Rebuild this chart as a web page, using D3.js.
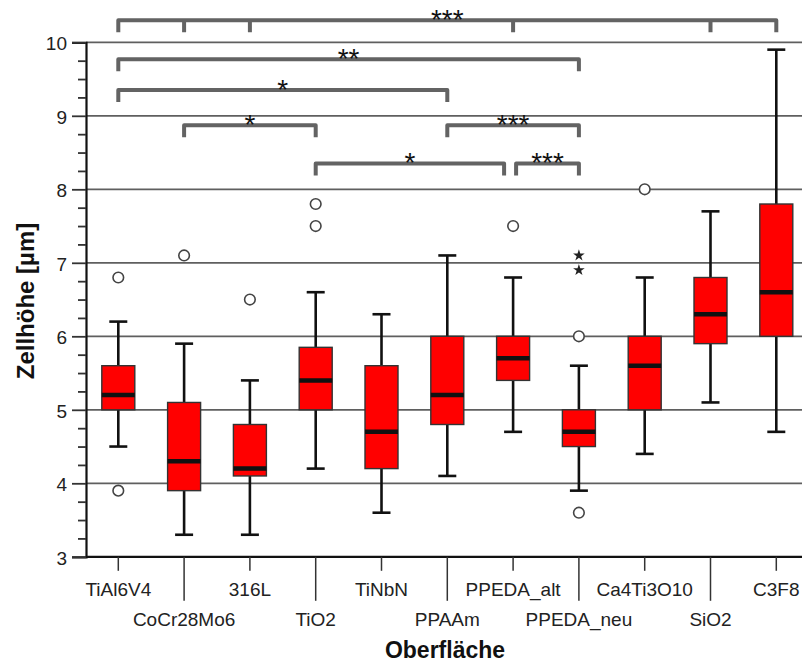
<!DOCTYPE html>
<html>
<head>
<meta charset="utf-8">
<script src="https://cdn.jsdelivr.net/npm/d3@7"></script>
<style>
  html, body { margin: 0; padding: 0; background: #fff; }
  svg { display: block; font-family: "Liberation Sans", Arial, sans-serif; }
</style>
</head>
<body>
<svg id="chart" width="802" height="663"></svg>
<script>
// ---------- data ----------
const categories = ["TiAl6V4","CoCr28Mo6","316L","TiO2","TiNbN","PPAAm","PPEDA_alt","PPEDA_neu","Ca4Ti3O10","SiO2","C3F8"];
const whiskerLow  = [4.5, 3.3, 3.3, 4.2, 3.6, 4.1, 4.7, 3.9, 4.4, 5.1, 4.7];
const q1          = [5.0, 3.9, 4.1, 5.0, 4.2, 4.8, 5.4, 4.5, 5.0, 5.9, 6.0];
const medians     = [5.2, 4.3, 4.2, 5.4, 4.7, 5.2, 5.7, 4.7, 5.6, 6.3, 6.6];
const q3          = [5.6, 5.1, 4.8, 5.85, 5.6, 6.0, 6.0, 5.0, 6.0, 6.8, 7.8];
const whiskerHigh = [6.2, 5.9, 5.4, 6.6, 6.3, 7.1, 6.8, 5.6, 6.8, 7.7, 9.9];
const outlierCats   = ["TiAl6V4","TiAl6V4","CoCr28Mo6","316L","TiO2","TiO2","PPEDA_alt","PPEDA_neu","PPEDA_neu","Ca4Ti3O10"];
const outlierValues = [6.8, 3.9, 7.1, 6.5, 7.8, 7.5, 7.5, 6.0, 3.6, 8.0];
const extremeCats   = ["PPEDA_neu","PPEDA_neu"];
const extremeValues = [7.1, 6.9];
const yTicks = [3,4,5,6,7,8,9,10];
const yLabel = "Zellhöhe [µm]";
const xLabel = "Oberfläche";
// significance brackets: legs (categories), label, level (in y units)
const bracketLegs = [
  ["TiAl6V4","CoCr28Mo6","316L","PPEDA_alt","SiO2","C3F8"],
  ["TiAl6V4","PPEDA_neu"],
  ["TiAl6V4","PPAAm"],
  ["CoCr28Mo6","TiO2"],
  ["PPAAm","PPEDA_neu"],
  ["TiO2","PPEDA_alt"],
  ["PPEDA_alt","PPEDA_neu"]
];
const bracketLabels = ["***","**","*","*","***","*","***"];
const bracketLevels = [10.3, 9.77, 9.35, 8.87, 8.87, 8.35, 8.35];

// ---------- layout ----------
const W = 802, H = 663;
const mLeft = 86, mTop = 42.3, mBottom = 556.8;
const svg = d3.select("#chart");

const x = d3.scaleBand().domain(categories).range([85.4, 85.4 + 11 * 65.8]).paddingInner(0).paddingOuter(0);
const y = d3.scaleLinear().domain([3, 10]).range([mBottom, mTop]);
const cx = c => x(c) + x.bandwidth() / 2;
const boxW = 33;
const capW = 18;

// gridlines
svg.append("g").selectAll("line").data(yTicks.filter(t => t > 3)).join("line")
  .attr("x1", mLeft).attr("x2", W)
  .attr("y1", d => y(d)).attr("y2", d => y(d))
  .attr("stroke", "#5f5f5f").attr("stroke-width", 1.8);

// brackets
const bG = svg.append("g");
bracketLegs.forEach((legs, i) => {
  const ly = y(bracketLevels[i]);
  const leg = 12;
  const xs = legs.map(c => cx(c));
  bracketLegs.forEach((o, j) => {
    if (j !== i && bracketLevels[j] === bracketLevels[i]) {
      if (o[0] === legs[legs.length - 1]) xs[xs.length - 1] -= 9;
      if (o[o.length - 1] === legs[0]) xs[0] += 3;
    }
  });
  const x0 = xs[0], x1 = xs[xs.length - 1];
  let d = `M${x0},${ly + leg} L${x0},${ly} L${x1},${ly} L${x1},${ly + leg}`;
  xs.slice(1, -1).forEach(xi => { d += ` M${xi},${ly} L${xi},${ly + leg}`; });
  bG.append("path").attr("d", d).attr("fill", "none")
    .attr("stroke", "#636363").attr("stroke-width", 4).attr("stroke-linejoin", "round");
  bG.append("text").attr("x", (x0 + x1) / 2).attr("y", ly + 8.5)
    .attr("text-anchor", "middle").attr("font-size", 28).attr("fill", "#111")
    .text(bracketLabels[i]);
});

// boxes
const boxes = svg.append("g");
categories.forEach((c, i) => {
  const g = boxes.append("g");
  const xc = cx(c);
  g.append("line").attr("x1", xc).attr("x2", xc).attr("y1", y(q3[i])).attr("y2", y(whiskerHigh[i]))
    .attr("stroke", "#111").attr("stroke-width", 2.6);
  g.append("line").attr("x1", xc).attr("x2", xc).attr("y1", y(q1[i])).attr("y2", y(whiskerLow[i]))
    .attr("stroke", "#111").attr("stroke-width", 2.6);
  [whiskerHigh[i], whiskerLow[i]].forEach(v => {
    g.append("line").attr("x1", xc - capW / 2).attr("x2", xc + capW / 2).attr("y1", y(v)).attr("y2", y(v))
      .attr("stroke", "#111").attr("stroke-width", 2.6);
  });
  g.append("rect").attr("x", xc - boxW / 2).attr("width", boxW)
    .attr("y", y(q3[i])).attr("height", y(q1[i]) - y(q3[i]))
    .attr("fill", "#ff0000").attr("stroke", "#333").attr("stroke-width", 1.4);
  g.append("line").attr("x1", xc - boxW / 2).attr("x2", xc + boxW / 2).attr("y1", y(medians[i])).attr("y2", y(medians[i]))
    .attr("stroke", "#111").attr("stroke-width", 4.5);
});

// outliers
svg.append("g").selectAll("circle").data(outlierValues).join("circle")
  .attr("cx", (d, i) => cx(outlierCats[i])).attr("cy", d => y(d)).attr("r", 5.3)
  .attr("fill", "#fff").attr("stroke", "#444").attr("stroke-width", 1.6);

// extremes
svg.append("g").selectAll("path").data(extremeValues).join("path")
  .attr("d", d3.symbol().type(d3.symbolStar).size(42))
  .attr("transform", (d, i) => `translate(${cx(extremeCats[i])},${y(d)})`)
  .attr("fill", "#222");

// y axis
const yAxis = svg.append("g").attr("transform", `translate(${mLeft},0)`)
  .call(d3.axisLeft(y).tickValues(yTicks).tickSize(14).tickPadding(5).tickFormat(d3.format("d")));
yAxis.select(".domain").attr("stroke", "#111").attr("stroke-width", 2.2);
yAxis.selectAll(".tick line").attr("stroke", "#333").attr("stroke-width", 1.8);
yAxis.selectAll(".tick text").attr("font-size", 19).attr("fill", "#222").attr("dy", "0.38em")
  .attr("font-family", "Liberation Sans, Arial, sans-serif");
const minor = d3.range(3, 10.001, 0.25).filter(v => Math.abs(v - Math.round(v)) > 0.01);
svg.append("g").attr("transform", `translate(${mLeft},0)`)
  .call(d3.axisLeft(y).tickValues(minor).tickSize(8).tickFormat(""))
  .call(g => g.select(".domain").remove())
  .selectAll(".tick line").attr("stroke", "#333").attr("stroke-width", 1.8);

// x axis
const xAxis = svg.append("g").attr("transform", `translate(0,${mBottom})`)
  .call(d3.axisBottom(x).tickSize(14).tickPadding(0));
xAxis.select(".domain").attr("d", `M${mLeft},0H${W}`).attr("stroke", "#111").attr("stroke-width", 2.2);
xAxis.selectAll(".tick line").attr("stroke", "#333").attr("stroke-width", 1.5)
  .attr("y2", (d, i) => i % 2 ? 44 : 14);
xAxis.selectAll(".tick text").attr("font-size", 19).attr("fill", "#222")
  .attr("font-family", "Liberation Sans, Arial, sans-serif")
  .attr("dy", 0).attr("y", (d, i) => i % 2 ? 69 : 39);

// axis titles
svg.append("text").attr("x", 445).attr("y", 658).attr("text-anchor", "middle")
  .attr("font-size", 23).attr("font-weight", "bold").attr("fill", "#111").text(xLabel);
svg.append("text").attr("transform", "translate(34,301) rotate(-90)").attr("text-anchor", "middle")
  .attr("font-size", 24).attr("font-weight", "bold").attr("fill", "#111").text(yLabel);
</script>
</body>
</html>
